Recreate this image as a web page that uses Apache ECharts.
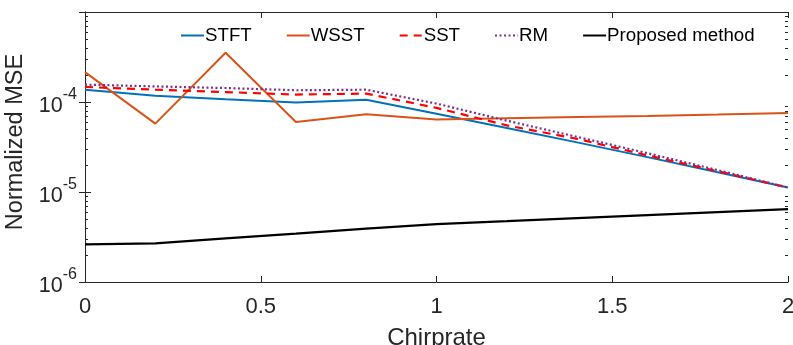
<!DOCTYPE html>
<html>
<head>
<meta charset="utf-8">
<script src="https://cdn.jsdelivr.net/npm/echarts@6/dist/echarts.min.js"></script>
<style>
  html, body { margin: 0; padding: 0; background: #fff; }
  #chart { width: 793px; height: 345px; }
</style>
</head>
<body>
<div id="chart"></div>
<script>
// Chirp rate samples and normalized MSE for each method
const chirprate = [0, 0.2, 0.4, 0.6, 0.8, 1.0, 1.2, 1.4, 1.6, 1.8, 2.0];
const stft     = [1.37e-4, 1.17e-4, 1.07e-4, 9.85e-5, 1.06e-4, 7.4e-5, 5.15e-5, 3.56e-5, 2.44e-5, 1.66e-5, 1.12e-5];
const wsst     = [2.15e-4, 5.75e-5, 3.53e-4, 6.0e-5, 7.3e-5, 6.4e-5, 6.6e-5, 6.8e-5, 7.0e-5, 7.25e-5, 7.55e-5];
const sst      = [1.47e-4, 1.37e-4, 1.29e-4, 1.21e-4, 1.24e-4, 8.6e-5, 5.5e-5, 3.9e-5, 2.55e-5, 1.7e-5, 1.12e-5];
const rm       = [1.56e-4, 1.49e-4, 1.43e-4, 1.35e-4, 1.37e-4, 9.6e-5, 6.2e-5, 4.1e-5, 2.7e-5, 1.75e-5, 1.12e-5];
const proposed = [2.62e-6, 2.69e-6, 3.05e-6, 3.45e-6, 3.92e-6, 4.4e-6, 4.74e-6, 5.13e-6, 5.53e-6, 5.97e-6, 6.45e-6];

const seriesNames = ['STFT', 'WSST', 'SST', 'RM', 'Proposed method'];
const xTicks = [0, 0.5, 1, 1.5, 2];
const yDecades = [1e-6, 1e-5, 1e-4];

const FONT = 'Liberation Sans, Arial, Helvetica, sans-serif';
const TEXT = '#262626';
const AXIS = '#262626';

function pairs(ys) { return chirprate.map((x, i) => [x, ys[i]]); }

const chart = echarts.init(document.getElementById('chart'), null, { renderer: 'canvas' });

const line = (name, data, color, type, width) => ({
  name, type: 'line', data: pairs(data), symbol: 'none',
  xAxisIndex: 0, yAxisIndex: 0,
  lineStyle: { color, width, type }, itemStyle: { color },
  emphasis: { disabled: true }, animation: false
});

const option = {
  animation: false,
  grid: { left: 85, right: 5, top: 12, bottom: 63, containLabel: false, outerBoundsMode: 'none' },
  legend: {
    data: seriesNames,
    left: 175, top: 21,
    itemWidth: 23, itemHeight: 10, itemGap: 34,
    itemStyle: { opacity: 0 },
    textStyle: { fontFamily: FONT, fontSize: 18.7, color: '#000', padding: [0, 0, 0, -4] }
  },
  xAxis: [{
    type: 'value', min: 0, max: 2, interval: 0.5,
    name: 'Chirprate', nameLocation: 'middle', nameGap: 44,
    nameTextStyle: { fontFamily: FONT, fontSize: 24, color: TEXT },
    axisLine: { lineStyle: { color: AXIS, width: 1 } },
    axisTick: { inside: true, length: 6, lineStyle: { color: AXIS } },
    axisLabel: { fontFamily: FONT, fontSize: 22, color: TEXT, margin: 14,
      formatter: v => xTicks.includes(v) ? String(v) : '' },
    splitLine: { show: false }
  }, {
    type: 'value', min: 0, max: 2, interval: 0.5, position: 'top',
    axisLine: { show: true, lineStyle: { color: AXIS, width: 1 } },
    axisTick: { inside: true, length: 6, lineStyle: { color: AXIS } },
    axisLabel: { show: false }, splitLine: { show: false }
  }],
  yAxis: [{
    type: 'log', logBase: 10, min: 1e-6, max: 1e-3,
    name: 'Normalized MSE', nameLocation: 'middle', nameGap: 56,
    nameTextStyle: { fontFamily: FONT, fontSize: 23.5, color: TEXT, padding: [0, 0, 0, 10] },
    axisLine: { show: true, lineStyle: { color: AXIS, width: 1 } },
    axisTick: { inside: true, length: 6, lineStyle: { color: AXIS } },
    axisLabel: {
      fontFamily: FONT, color: TEXT, margin: 8, showMaxLabel: false,
      formatter: v => {
        const e = Math.round(Math.log10(v));
        if (!yDecades.some(d => Math.abs(Math.log10(d) - e) < 1e-6)) return '';
        return '{b|10}{s|' + e + '}';
      },
      rich: {
        b: { fontFamily: FONT, fontSize: 21.5, color: TEXT, padding: [9, 0, 0, 0] },
        s: { fontFamily: FONT, fontSize: 16, color: TEXT, verticalAlign: 'top' }
      }
    },
    splitLine: { show: false }
  }, {
    type: 'log', logBase: 10, min: 1e-6, max: 1e-3, position: 'right',
    axisLine: { show: true, lineStyle: { color: AXIS, width: 1 } },
    axisTick: { inside: true, length: 6, lineStyle: { color: AXIS } },
    axisLabel: { show: false }, splitLine: { show: false }
  }],
  series: [
    line('STFT', stft, '#0072BD', 'solid', 2),
    line('WSST', wsst, '#D95319', 'solid', 2),
    line('SST', sst, '#FF0000', [8, 6], 2.2),
    line('RM', rm, '#7E2F8E', [2, 2.5], 2.2),
    line('Proposed method', proposed, '#000000', 'solid', 2.2)
  ]
};
chart.setOption(option);

// Minor log ticks (2..9 within each decade) on the left and right edges
const minorTickValues = [];
[1e-6, 1e-5, 1e-4].forEach(d => { for (let k = 2; k <= 9; k++) minorTickValues.push(k * d); });
const gridRect = chart.getModel().getComponent('grid', 0).coordinateSystem.getRect();
const minorLines = [];
minorTickValues.forEach(v => {
  const p = chart.convertToPixel({ xAxisIndex: 0, yAxisIndex: 0 }, [0, v]);
  const y = Math.round(p[1]) + 0.5;
  minorLines.push({ type: 'line', silent: true,
    shape: { x1: gridRect.x, y1: y, x2: gridRect.x + 3, y2: y },
    style: { stroke: AXIS, lineWidth: 1 } });
  minorLines.push({ type: 'line', silent: true,
    shape: { x1: gridRect.x + gridRect.width - 3, y1: y, x2: gridRect.x + gridRect.width, y2: y },
    style: { stroke: AXIS, lineWidth: 1 } });
});
chart.setOption({ graphic: minorLines });
</script>
</body>
</html>
